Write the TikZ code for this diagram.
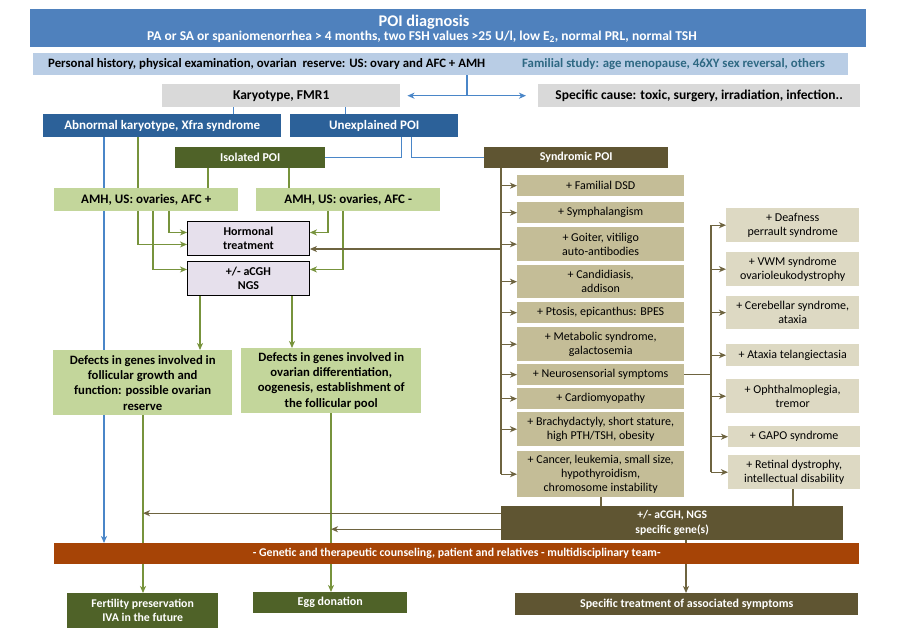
\documentclass[tikz,border=0pt]{standalone}
\usepackage{fontspec}
\setmainfont{Carlito}
\usetikzlibrary{arrows.meta,calc,backgrounds}

\definecolor{topblue}{HTML}{4F81BD}
\definecolor{lightblue}{HTML}{B9CDE5}
\definecolor{famtxt}{HTML}{2E6883}
\definecolor{grayb}{HTML}{D9D9D9}
\definecolor{darkblue}{HTML}{2C6199}
\definecolor{lineblue}{HTML}{4A86C8}
\definecolor{dkgreen}{HTML}{4F6228}
\definecolor{oliveb}{HTML}{5F5532}
\definecolor{lgreen}{HTML}{C3D69B}
\definecolor{lav}{HTML}{E6E0EC}
\definecolor{tanb}{HTML}{C4BD97}
\definecolor{ltan}{HTML}{DDD9C3}
\definecolor{orangeb}{HTML}{A64406}
\definecolor{linegreen}{HTML}{77933C}
\definecolor{lineolive}{HTML}{6E6440}

\newcommand{\mybox}[7]{\node[#6, anchor=north west, minimum width={(#4-#2)*1pt}, minimum height={(#5-#3)*1pt}] (#1) at (#2,#3) {#7};}
\newcommand{\fs}[2]{\fontsize{#1}{#2}\selectfont}

\tikzset{
  base/.style={inner sep=1pt, align=center},
  wbold/.style={base, text=white, font=\bfseries\fs{13}{15}},
  kbold/.style={base, text=black, font=\bfseries\fs{13}{15}},
  lst/.style={base, fill=tanb, text=black, font=\fs{12}{14}},
  rlst/.style={base, fill=ltan, text=black, font=\fs{12}{14}},
  bline/.style={draw=lineblue, line width=1.4pt},
  gline/.style={draw=linegreen, line width=1.2pt},
  oline/.style={draw=lineolive, line width=1.2pt},
  tip/.style={-{Stealth[length=7pt,width=6pt,inset=2pt]}},
}

\begin{document}
\begin{tikzpicture}[x=1pt,y=-1pt]
\useasboundingbox (0,0) rectangle (904,630);

% x positions
\foreach \xx in {104,138,143,153,169,200,208,233,289,292,328,331,343,345,401,411,467,501,601,686,711,793}
  \coordinate (X\xx) at (\xx,0);

\mybox{top}{30}{9}{866}{47}{base, fill=topblue}{}
\node[base, inner sep=0pt, text=white, font=\bfseries\fs{16.3}{17}] (title) at (424,22) {POI diagnosis};
\node[base, inner sep=0pt, text=white, font=\bfseries\fs{13.5}{15}] (crit) at (422,37) {PA or SA or spaniomenorrhea > 4 months, two FSH values >25 U/l, low E\textsubscript{2}, normal PRL, normal TSH};
\mybox{pers}{33}{53}{848}{75}{base, fill=lightblue}{}
\node[anchor=west, inner sep=0pt, font=\bfseries\fs{12.8}{14}] (persL) at (48,64) {Personal history, physical examination, ovarian\ \ reserve: US: ovary and AFC + AMH};
\node[anchor=west, inner sep=0pt, text=famtxt, font=\bfseries\fs{12.8}{14}] (persR) at (522,64) {Familial study: age menopause, 46XY sex reversal, others};

\mybox{kar}{162}{84}{400}{107}{kbold, fill=grayb, font=\bfseries\fs{13.5}{15}}{Karyotype, FMR1}
\mybox{spec}{538}{84}{860}{107}{kbold, fill=grayb, font=\bfseries\fs{13.5}{15}}{Specific cause: toxic, surgery, irradiation, infection..}
\mybox{abn}{43}{114}{281}{137}{wbold, fill=darkblue}{Abnormal karyotype, Xfra syndrome}
\mybox{unexp}{290}{114}{458}{137}{wbold, fill=darkblue}{Unexplained POI}
\mybox{iso}{175}{147}{325}{168}{wbold, fill=dkgreen, font=\bfseries\fs{12}{14}}{Isolated POI}
\mybox{synd}{484}{147}{668}{168}{wbold, fill=oliveb, font=\bfseries\fs{12}{14}}{Syndromic POI}
\mybox{amhp}{54}{188}{238}{211}{kbold, fill=lgreen}{AMH, US: ovaries, AFC +}
\mybox{amhm}{256}{188}{440}{211}{kbold, fill=lgreen}{AMH, US: ovaries, AFC -}
\mybox{horm}{187}{221}{309}{255}{kbold, fill=lav, draw=black, line width=0.9pt, font=\bfseries\fs{12}{14.5}}{Hormonal\\treatment}
\mybox{acgh}{187}{261}{309}{295}{kbold, fill=lav, draw=black, line width=0.9pt, font=\bfseries\fs{12}{14.5}}{+/- aCGH\\NGS}
\mybox{def1}{53}{350}{232}{415}{kbold, fill=lgreen, font=\bfseries\fs{12.7}{15.3}}{Defects in genes involved in\\follicular growth and\\function: possible ovarian\\reserve}
\mybox{def2}{241}{348}{421}{413}{kbold, fill=lgreen, font=\bfseries\fs{12.7}{15.3}}{Defects in genes involved in\\ovarian differentiation,\\oogenesis, establishment of\\the follicular pool}

\mybox{l1}{517}{175}{684}{196}{lst}{+ Familial DSD}
\mybox{l2}{517}{202}{684}{223}{lst}{+ Symphalangism}
\mybox{l3}{517}{227}{684}{261}{lst}{+ Goiter, vitiligo\\auto-antibodies}
\mybox{l4}{517}{265}{684}{298}{lst}{+ Candidiasis,\\addison}
\mybox{l5}{517}{302}{684}{323}{lst}{+ Ptosis, epicanthus: BPES}
\mybox{l6}{517}{327}{684}{361}{lst}{+ Metabolic syndrome,\\galactosemia}
\mybox{l7}{517}{364}{684}{385}{lst}{+ Neurosensorial symptoms}
\mybox{l8}{517}{388}{684}{409}{lst}{+ Cardiomyopathy}
\mybox{l9}{517}{412}{684}{446}{lst}{+ Brachydactyly, short stature,\\high PTH/TSH, obesity}
\mybox{l10}{517}{451}{684}{497}{lst}{+ Cancer, leukemia, small size,\\hypothyroidism,\\chromosome instability}

\mybox{r1}{726}{208}{859}{242}{rlst}{+ Deafness\\perrault syndrome}
\mybox{r2}{726}{252}{859}{286}{rlst}{+ VWM syndrome\\ovarioleukodystrophy}
\mybox{r3}{726}{296}{859}{329}{rlst}{+ Cerebellar syndrome,\\ataxia}
\mybox{r4}{726}{344}{859}{366}{rlst}{+ Ataxia telangiectasia}
\mybox{r5}{726}{379}{859}{413}{rlst}{+ Ophthalmoplegia,\\tremor}
\mybox{r6}{728}{426}{860}{447}{rlst}{+ GAPO syndrome}
\mybox{r7}{728}{455}{860}{489}{rlst}{+ Retinal dystrophy,\\intellectual disability}

\mybox{ngs}{501}{506}{843}{540}{wbold, fill=oliveb, font=\bfseries\fs{11.6}{15}}{+/- aCGH, NGS\\specific gene(s)}
\mybox{orange}{54}{543}{859}{564}{wbold, fill=orangeb, font=\bfseries\fs{11.8}{13}}{- Genetic and therapeutic counseling, patient and relatives - multidisciplinary team-}
\mybox{fert}{67}{593}{218}{628}{wbold, fill=dkgreen, font=\bfseries\fs{11.8}{14}}{Fertility preservation\\IVA in the future}
\mybox{egg}{253}{592}{407}{613}{wbold, fill=dkgreen, font=\bfseries\fs{12}{14}}{Egg donation}
\mybox{spt}{515}{593}{858}{615}{wbold, fill=oliveb, font=\bfseries\fs{12}{14}}{Specific treatment of associated symptoms}

\begin{scope}[on background layer]
% blue
\coordinate (J1) at (467,95);
\draw[bline] (pers.south -| X467) -- (J1);
\draw[bline, {Stealth[length=7pt,width=6pt,inset=2pt]}-{Stealth[length=7pt,width=6pt,inset=2pt]}] ($(kar.east)+(7,0)$) -- ($(spec.west)+(-12,0)$);
\draw[bline, line width=1pt] (kar.south -| X233) -- (abn.north -| X233);
\draw[bline, line width=1pt] (kar.south -| X345) -- (unexp.north -| X345);
\draw[bline, line width=1pt] (unexp.south -| X401) |- (iso.east);
\draw[bline, line width=1pt] (unexp.south -| X411) |- (synd.west);
\draw[bline, tip] (abn.south -| X104) -- (orange.north -| X104);
% green
\draw[gline] (iso.south -| X208) -- (amhp.north -| X208);
\draw[gline] (iso.south -| X289) -- (amhm.north -| X289);
\draw[gline, tip] (abn.south -| X138) |- ($(horm.west)+(0,6)$);
\draw[gline, tip] (amhp.south -| X169) |- ($(horm.west)+(0,-6)$);
\draw[gline, tip] (amhp.south -| X153) |- ($(acgh.west)+(0,-9)$);
\draw[gline, tip] (amhm.south -| X328) |- ($(horm.east)+(0,-6)$);
\draw[gline, tip] (amhm.south -| X343) |- ($(acgh.east)+(0,-9)$);
\draw[gline, tip] (acgh.south -| X200) -- (def1.north -| X200);
\draw[gline, tip] (acgh.south -| X292) -- (def2.north -| X292);
\draw[gline, tip] (def1.south -| X143) -- (fert.north -| X143);
\draw[gline, tip] (def2.south -| X331) -- (egg.north -| X331);
% olive
\draw[oline] (synd.south -| X501) -- (X501 |- l10.west);
\foreach \n in {l1,l2,l3,l4,l5,l6,l7,l8,l9,l10}
  \draw[oline, tip] (X501 |- \n.west) -- (\n.west);
\coordinate (HJ) at (501,249);
\draw[oline, tip] (HJ) -- (HJ -| horm.east);
\draw[oline] (l7.east) -- (X711 |- l7.east);
\draw[oline] (X711 |- r1.west) -- (X711 |- r7.west);
\foreach \n in {r1,r2,r3,r4,r5,r6,r7}
  \draw[oline, tip] (X711 |- \n.west) -- (\n.west);
\draw[oline] (l10.south -| X601) -- (ngs.north -| X601);
\draw[oline] (r7.south -| X793) -- (ngs.north -| X793);
\path ($(ngs.west)+(0,-10)$) coordinate (N1);
\draw[oline, tip] (N1) -- (N1 -| X143);
\path ($(ngs.west)+(0,6)$) coordinate (N2);
\draw[oline, tip] (N2) -- (N2 -| X331);
\draw[oline, tip] (ngs.south -| X686) -- (spt.north -| X686);
\end{scope}
\end{tikzpicture}
\end{document}
